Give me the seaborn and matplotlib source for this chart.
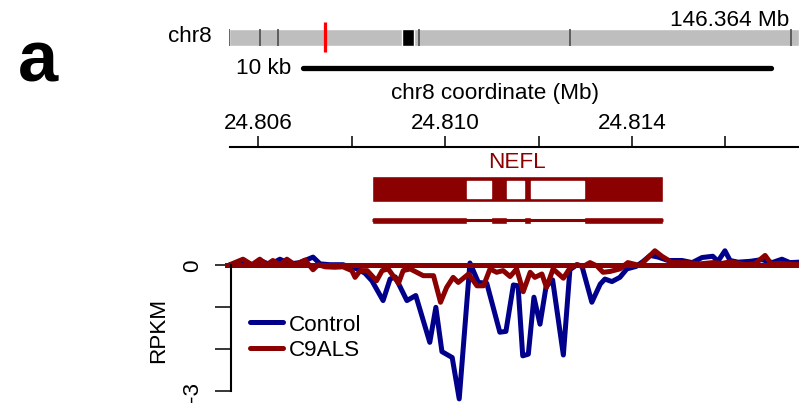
import numpy as np
import pandas as pd
import matplotlib
matplotlib.use("Agg")
import matplotlib.pyplot as plt
from matplotlib.lines import Line2D
import seaborn as sns

sns.set_style("white")
plt.rcParams['font.family'] = ['Liberation Sans', 'DejaVu Sans']
plt.rcParams['text.color'] = 'black'
plt.rcParams['axes.labelcolor'] = 'black'
plt.rcParams['xtick.color'] = 'black'
plt.rcParams['ytick.color'] = 'black'

# ---------------- data ----------------
chrom_len = 146.364
band_edges = [0.0, 7.98, 12.6, 49.46, 88.85, 146.364]
centromere = (45.15, 48.2)
gene_locus = 24.81

scale_bar = (24.80696, 24.81697)   # 10 kb

gene_name = "NEFL"
gene_start, gene_end = 24.80843, 24.81466
exons = [(24.80843, 24.81047), (24.81098, 24.81132), (24.81169, 24.81183), (24.81297, 24.81466)]

coord_ticks = [24.806, 24.808, 24.810, 24.812, 24.814, 24.816]
coord_labels = ["24.806", "", "24.810", "", "24.814", ""]

control_pos = [24.80539, 24.80571, 24.80593, 24.80608, 24.80625, 24.80646, 24.80668, 24.80689,
               24.80717, 24.80732, 24.80753, 24.80781, 24.80811, 24.80828, 24.80843, 24.80867,
               24.80882, 24.80893, 24.80918, 24.80937, 24.80967, 24.80980, 24.80993, 24.81015,
               24.81030, 24.81053, 24.81071, 24.81089, 24.81117, 24.81130, 24.81146, 24.81156,
               24.81166, 24.81178, 24.81190, 24.81203, 24.81216, 24.81230, 24.81253, 24.81267,
               24.81282, 24.81293, 24.81314, 24.81332, 24.81342, 24.81357, 24.81374, 24.81389,
               24.81409, 24.81424, 24.81439, 24.81456, 24.81477, 24.81507, 24.81529, 24.81550,
               24.81573, 24.81584, 24.81599, 24.81610, 24.81627, 24.81653, 24.81678, 24.81700,
               24.81721, 24.81738, 24.81758, 24.81770]
control_val = [0.00, 0.02, 0.00, 0.08, 0.00, 0.13, 0.02, 0.05,
               0.18, 0.02, 0.00, 0.00, -0.10, -0.20, -0.38, -0.85,
               -0.34, -0.29, -0.85, -0.73, -1.84, -1.01, -2.06, -2.20,
               -3.18, 0.04, -0.42, -0.44, -1.60, -1.58, -0.48, -0.50,
               -2.16, -2.12, -0.77, -1.41, -0.52, -0.36, -2.14, -0.12,
               0.00, -0.04, -0.89, -0.46, -0.34, -0.40, -0.30, -0.10,
               -0.04, 0.08, 0.22, 0.18, 0.10, 0.10, 0.05, 0.17,
               0.20, 0.08, 0.33, 0.10, 0.06, 0.08, 0.12, 0.05,
               0.13, 0.05, 0.06, 0.04]

c9als_pos = [24.80539, 24.80567, 24.80586, 24.80603, 24.80618, 24.80631, 24.80646, 24.80661,
             24.80678, 24.80700, 24.80717, 24.80728, 24.80743, 24.80764, 24.80781, 24.80800,
             24.80807, 24.80818, 24.80833, 24.80853, 24.80865, 24.80878, 24.80900, 24.80910,
             24.80925, 24.80939, 24.80953, 24.80975, 24.80990, 24.81003, 24.81017, 24.81028,
             24.81050, 24.81068, 24.81082, 24.81096, 24.81110, 24.81124, 24.81139, 24.81153,
             24.81167, 24.81182, 24.81192, 24.81207, 24.81217, 24.81231, 24.81253, 24.81267,
             24.81282, 24.81296, 24.81310, 24.81325, 24.81338, 24.81353, 24.81374, 24.81391,
             24.81417, 24.81449, 24.81464, 24.81486, 24.81518, 24.81546, 24.81573, 24.81593,
             24.81610, 24.81646, 24.81663, 24.81685, 24.81698, 24.81717, 24.81758, 24.81770]
c9als_val = [0.00, 0.13, 0.00, 0.13, 0.00, 0.10, 0.00, 0.13,
             0.00, 0.11, -0.12, 0.00, -0.05, -0.06, -0.05, -0.14,
             -0.30, -0.14, -0.14, -0.38, -0.14, -0.10, -0.44, -0.14,
             -0.10, -0.18, -0.26, -0.26, -0.89, -0.54, -0.30, -0.42,
             -0.22, -0.50, -0.50, -0.10, -0.18, -0.14, -0.28, -0.10,
             -0.64, -0.18, -0.30, -0.22, -0.54, -0.10, -0.32, -0.08,
             0.00, -0.04, 0.05, -0.03, -0.18, -0.16, -0.10, 0.05,
             -0.02, 0.33, 0.20, 0.05, 0.05, 0.02, 0.05, 0.03,
             0.07, 0.00, 0.02, 0.22, 0.02, 0.03, 0.00, 0.00]

samples = ["Control", "C9ALS"]
colors = {"Control": "#00008B", "C9ALS": "#8B0000"}
y_ticks = [0, -1, -2, -3]
y_labels = ["0", "", "", "-3"]

# ---------------- layout helpers ----------------
W, H = 799, 410
fig = plt.figure(figsize=(W / 100, H / 100), dpi=100)

def add_ax(left, top, right, bottom):
    return fig.add_axes([left / W, 1 - bottom / H, (right - left) / W, (bottom - top) / H])

PX0, X0, PXPERMB = 258.4, 24.806, 46700.0
def xl(px):
    return X0 + (px - PX0) / PXPERMB

FS = 16.2
LW = 3.6
DR = colors["C9ALS"]

# ---------------- ideogram ----------------
ax_id = add_ax(229.4, 20, 799, 56)
ideo_right = (799 - 229.4) / (790.5 - 229.4) * chrom_len
ax_id.set_xlim(0, ideo_right)
ax_id.set_ylim(0, 36)
ax_id.broken_barh([(0, ideo_right)], (9.3, 16.7), facecolors="#BEBEBE")
ax_id.broken_barh([(centromere[0], centromere[1] - centromere[0])], (9.3, 16.7), facecolors="black")
ax_id.vlines(band_edges, 9.3, 26.0, colors="#4D4D4D", lw=1.2)
ax_id.vlines([gene_locus], 3.3, 33.0, colors="red", lw=2.3)
ax_id.text(chrom_len - 0.4, 35, f"{chrom_len:.3f} Mb", ha="right", va="center", fontsize=FS, clip_on=False)
ax_id.axis("off")
fig.text(212 / W, 1 - 37 / H, "chr8", ha="right", va="center", fontsize=FS)
fig.text(38 / W, 1 - 63 / H, "a", ha="center", va="center", fontsize=52, fontweight="bold", color="black")

# ---------------- scale bar ----------------
ax_sb = add_ax(229.5, 60, 799, 78)
ax_sb.set_xlim(xl(229.5), xl(799))
ax_sb.set_ylim(0, 1)
ax_sb.hlines([0.5], scale_bar[0], scale_bar[1], colors="black", lw=3.8, capstyle="round")
ax_sb.axis("off")
fig.text(291 / W, 1 - 69 / H, "10 kb", ha="right", va="center", fontsize=FS)
fig.text(495 / W, 1 - 93 / H, "chr8 coordinate (Mb)", ha="center", va="center", fontsize=FS)

# ---------------- gene / coordinate axis ----------------
ax_g = add_ax(229.5, 148, 799, 240)
ax_g.set_xlim(xl(229.5), xl(799))
ax_g.set_ylim(92, 0)
for s in ["left", "right", "bottom"]:
    ax_g.spines[s].set_visible(False)
ax_g.spines["top"].set_linewidth(1.5)
ax_g.spines["top"].set_color("black")
ax_g.xaxis.tick_top()
ax_g.set_xticks(coord_ticks)
ax_g.set_xticklabels(coord_labels)
ax_g.tick_params(axis="x", direction="out", length=7.9, width=1.1, pad=2.0, labelsize=FS, colors="black")
ax_g.set_yticks([])
ax_g.set_facecolor("none")

ax_g.broken_barh([(gene_start, gene_end - gene_start)], (29.3, 25.4), facecolors=DR)
introns = [(exons[i][1], exons[i + 1][0]) for i in range(len(exons) - 1)]
ax_g.broken_barh([(a, b - a) for a, b in introns], (33.7, 17.3), facecolors="white")
ax_g.hlines([73], gene_start, gene_end, colors=DR, lw=2.2)
ax_g.broken_barh([(a, b - a) for a, b in exons], (69.6, 7.2), facecolors=DR)
ax_g.text((gene_start + gene_end) / 2, 14, gene_name, ha="center", va="center", color=DR, fontsize=FS)

# ---------------- signal ----------------
ax_s = add_ax(225, 245, 799, 410)
df = pd.concat([
    pd.DataFrame({"pos": control_pos, "RPKM": control_val, "sample": "Control"}),
    pd.DataFrame({"pos": c9als_pos, "RPKM": c9als_val, "sample": "C9ALS"}),
])
sns.lineplot(data=df, x="pos", y="RPKM", hue="sample", hue_order=samples, palette=colors,
             estimator=None, sort=False, linewidth=LW, ax=ax_s, legend=False)
ax_s.axhline(0, color=DR, linewidth=LW)
ax_s.set_xlim(xl(225), xl(799))
ax_s.set_ylim(-(410 - 265.7) / 42.2, (265.7 - 245) / 42.2)
for s in ["top", "right", "bottom"]:
    ax_s.spines[s].set_visible(False)
ax_s.spines["left"].set_bounds(-3, 0)
ax_s.spines["left"].set_position(("data", xl(230.5)))
ax_s.spines["left"].set_linewidth(1.5)
ax_s.spines["left"].set_color("black")
ax_s.set_xticks([])
ax_s.set_yticks(y_ticks)
ax_s.set_yticklabels(y_labels, rotation=90, va="center")
ax_s.tick_params(axis="y", direction="out", length=11.5, width=1.1, pad=8, labelsize=FS, colors="black", left=True)
ax_s.set_xlabel("")
ax_s.set_ylabel("")
ax_s.set_facecolor("none")
fig.text(159 / W, 1 - 330 / H, "RPKM", rotation=90, ha="center", va="center", fontsize=FS)

handles = [Line2D([0], [0], color=colors[s], linewidth=LW) for s in samples]
ax_s.legend(handles, samples, loc="upper left", bbox_to_anchor=(250 / W, 1 - 315 / H),
            bbox_transform=fig.transFigure, frameon=False, fontsize=FS, handlelength=1.47,
            handletextpad=0.27, borderpad=0, borderaxespad=0, labelspacing=0.2)

fig.savefig("out.png", dpi=100)
